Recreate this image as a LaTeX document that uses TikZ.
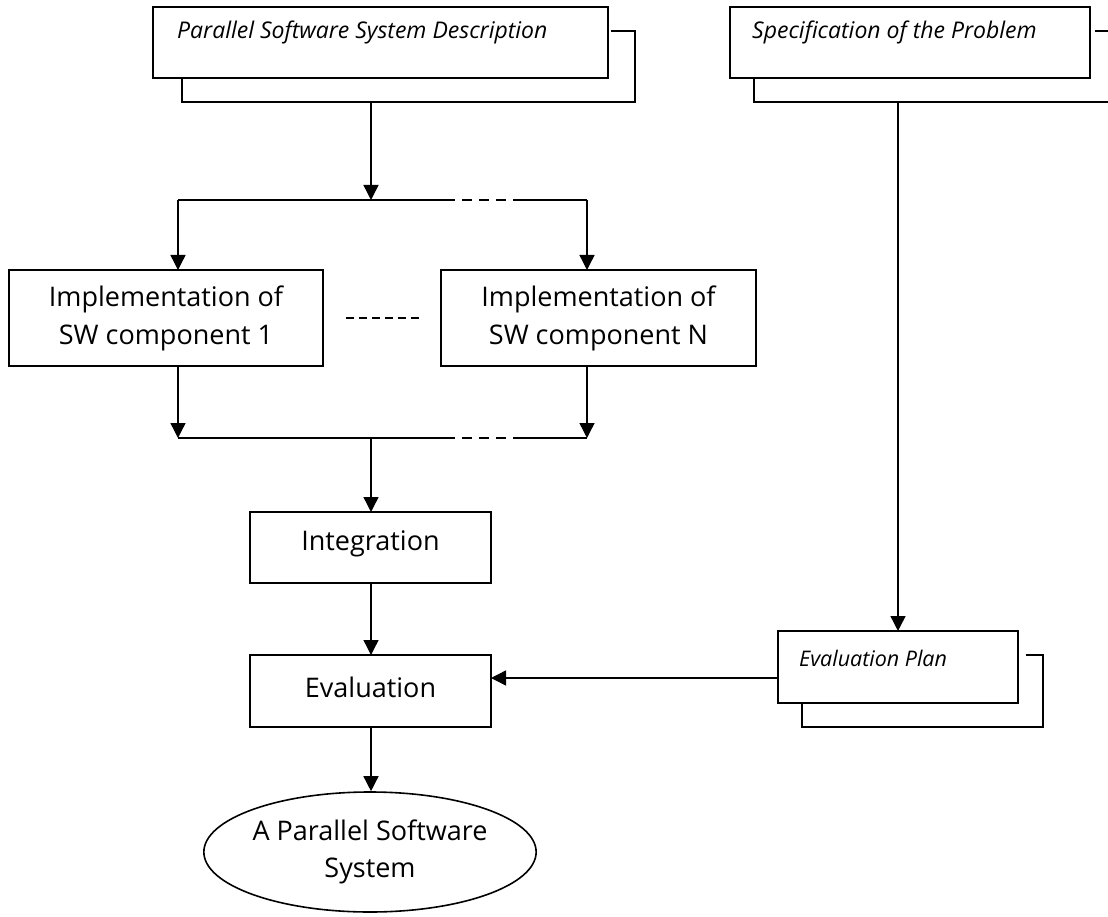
\documentclass[tikz,border=0pt]{standalone}
\usepackage{fontspec}
\setmainfont{Open Sans}
\usetikzlibrary{arrows.meta,shapes.geometric}
\begin{document}
\begin{tikzpicture}[x=1pt,y=-1pt,
  box/.style={draw,line width=1.6pt,inner sep=0pt,outer sep=0pt,anchor=north west,
    font=\fontsize{27}{38}\selectfont,align=center},
  back/.style={line width=1.6pt},
  conn/.style={line width=1.4pt},
  arr/.style={conn,-{Triangle[length=15pt,width=15pt]}},
  dashline/.style={line width=1.4pt,dash pattern=on 10pt off 7pt},
  dotline/.style={line width=1.4pt,dash pattern=on 8pt off 5pt},
  doc/.style={font=\fontsize{23}{27}\selectfont\itshape,inner sep=0pt,anchor=west},
  lbl/.style={font=\fontsize{27}{38}\selectfont,inner sep=0pt},
]
\useasboundingbox (0,0) rectangle (1108,917);

% document boxes
\node[box,minimum width=455pt,minimum height=71pt] (psd) at (153,7) {};
\node[doc] (psdt) at (177,32) {Parallel Software System Description};
\draw[back] (611,31) -- (635,31) -- (635,102) -- (182,102) -- (182,78);

\node[box,minimum width=360pt,minimum height=71pt] (spec) at (730,7) {};
\node[doc] (spect) at (752,32) {Specification of the Problem};
\draw[back] (1095,31) -- (1112,31);
\draw[back] (1112,102) -- (754,102) -- (754,78);

\node[box,minimum width=240pt,minimum height=72pt] (evp) at (778,631) {};
\node[doc,font=\fontsize{21.5}{25}\selectfont\itshape] (evpt) at (799,658) {Evaluation Plan};
\draw[back] (1026,655) -- (1043,655) -- (1043,727) -- (802,727) -- (802,703);

% implementation boxes
\node[box,minimum width=314pt,minimum height=96pt] (impl1) at (9,270) {Implementation of\\SW component 1};
\node[box,minimum width=315pt,minimum height=96pt] (impln) at (441,270) {Implementation of\\SW component N};
\draw[dotline] (346,318) -- (420,318);

\node[box,minimum width=241pt,minimum height=71pt] (integ) at (250,512) {};
\node[lbl] (integt) at ([yshift=4pt]integ.center) {Integration};
\node[box,minimum width=241pt,minimum height=72pt] (eval) at (250,655) {};
\node[lbl] (evalt) at ([yshift=4pt]eval.center) {Evaluation};

\node[draw,ellipse,line width=1.6pt,minimum width=284pt,minimum height=120pt,inner sep=0pt,
  font=\fontsize{27}{37}\selectfont,align=center] (sys) at (370,852) {A Parallel Software\\System};

% split and join
\coordinate (psdout) at (371,102);
\coordinate (split) at (371,200);
\coordinate (sL) at (178,200);
\coordinate (sR) at (587,200);
\draw[arr] (psdout) -- (split);
\draw[conn] (sL) -- (445,200);
\draw[dashline] (445,200) -- (514,200);
\draw[conn] (514,200) -- (sR);
\draw[arr] (sL) -- (sL |- impl1.north);
\draw[arr] (sR) -- (sR |- impln.north);

\coordinate (jL) at (178,438);
\coordinate (jR) at (587,438);
\coordinate (join) at (371,438);
\draw[arr] (jL |- impl1.south) -- (jL);
\draw[arr] (jR |- impln.south) -- (jR);
\draw[conn] (jL) -- (445,438);
\draw[dashline] (445,438) -- (514,438);
\draw[conn] (514,438) -- (jR);
\draw[arr] (join) -- (join |- integ.north);

\coordinate (cx) at (371,0);
\draw[arr] (cx |- integ.south) -- (cx |- eval.north);
\draw[arr] (cx |- eval.south) -- (cx |- sys.north);

\coordinate (specout) at (898,102);
\draw[arr] (specout) -- (specout |- evp.north);
\coordinate (evy) at (0,678);
\draw[arr] (evp.west |- evy) -- (eval.east |- evy);
\end{tikzpicture}
\end{document}
